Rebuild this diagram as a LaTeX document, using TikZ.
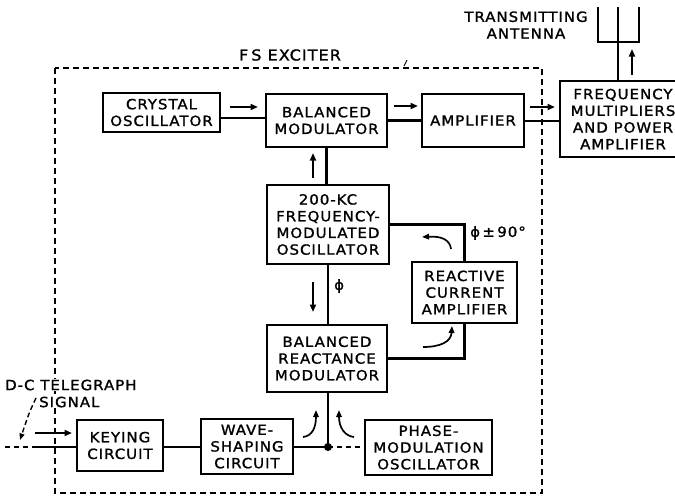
\documentclass[tikz,border=0pt]{standalone}
\usepackage{fontspec}
\usetikzlibrary{arrows.meta}
\newfontfamily\lett{DejaVu Sans}[FakeStretch=1.07,LetterSpace=7,FakeBold=1.3]
\begin{document}
\begin{tikzpicture}[x=1pt,y=-1pt,
  txt/.style={font=\lett\fontsize{14}{16.7}\selectfont},
  blk/.style={txt, draw, line width=1.6pt, inner sep=0pt, align=center},
  lbl/.style={txt, inner sep=0pt, align=center},
  conn/.style={line width=2.9pt},
  arr/.style={line width=1.9pt, -{Triangle[length=7.5pt,width=6pt]}},
  carr/.style={line width=1.7pt, -{Triangle[length=7pt,width=5.5pt]}},
  frame/.style={line width=1.3pt, dash pattern=on 6pt off 4pt}]
\clip (0,0) rectangle (675,496);
\fill[white] (0,0) rectangle (675,496);

% dashed exciter frame
\draw[frame] (55,68) rectangle (542,493);
\draw[line width=0.9pt] (404,66) -- (407,60);
\node[lbl, font=\lett\fontsize{15}{16}\selectfont] (fs) at (290,55) {F\kern3pt S EXCITER};

% blocks
\node[blk, minimum width=117pt, minimum height=39pt] (crystal) at (161.5,112.5) {CRYSTAL\\OSCILLATOR};
\node[blk, minimum width=121pt, minimum height=53pt] (balmod) at (326.5,120.5) {BALANCED\\MODULATOR};
\node[blk, minimum width=102pt, minimum height=53pt] (amp) at (473,120.5) {AMPLIFIER};
\node[blk, minimum width=126pt, minimum height=76pt] (freq) at (623,119) {FREQUENCY\\MULTIPLIERS\\AND POWER\\AMPLIFIER};
\node[blk, minimum width=122pt, minimum height=79pt] (osc) at (328,224.5) {200-KC\\FREQUENCY-\\MODULATED\\OSCILLATOR};
\node[blk, minimum width=105pt, minimum height=61pt] (react) at (464.5,292.5) {REACTIVE\\CURRENT\\AMPLIFIER};
\node[blk, minimum width=120pt, minimum height=67pt] (balreact) at (327,358.5) {BALANCED\\REACTANCE\\MODULATOR};
\node[blk, minimum width=86pt, minimum height=51pt] (key) at (120,445.5) {KEYING\\CIRCUIT};
\node[blk, minimum width=92pt, minimum height=55pt] (wave) at (247,446.5) {WAVE-\\SHAPING\\CIRCUIT};
\node[blk, minimum width=127pt, minimum height=55pt] (phase) at (428.5,447.5) {PHASE-\\MODULATION\\OSCILLATOR};

% labels
\node[lbl] (ant) at (526,25) {TRANSMITTING\\ANTENNA};
\node[lbl, anchor=west, fill=white, inner sep=1pt] (dc1) at (4,385) {D-C TELEGRAPH};
\node[lbl, anchor=west, fill=white, inner sep=1pt] (dc2) at (38,402) {SIGNAL};
\node[lbl, anchor=west] (phi90) at (470,233) {ϕ\,±\,90°};
\node[lbl, anchor=west] (phi) at (334,286) {ϕ};

% helper coordinates
\coordinate (y1) at (0,118);
\coordinate (y3) at (0,121);
\coordinate (j) at (328,447);
\coordinate (xin) at (5,447);
\coordinate (xsol) at (32,447);
\coordinate (antL) at (598,7);
\coordinate (antR) at (639,7);
\coordinate (antC) at (618,7);
\coordinate (antB) at (618,42);

% top row connectors
\draw[conn] (crystal.east |- y1) -- (balmod.west |- y1);
\draw[conn] (balmod.east) -- (amp.west);
\draw[conn] (amp.east |- y3) -- (freq.west |- y3);
\draw[arr] (230,107) -- (258,107);
\draw[arr] (394,106) -- (418,106);
\draw[arr] (530,107) -- (555,107);

% antenna
\draw[line width=1.6pt] (antL) |- (antB) -| (antR);
\draw[line width=1.6pt] (antC) -- (antB);
\draw[conn] (antB) -- (antB |- freq.north);
\draw[arr] (632,75) -- (632,49);

% vertical chain
\draw[conn] (osc.north -| balmod.south) -- (balmod.south);
\draw[arr] (313,178) -- (313,153);
\draw[conn] (osc.south) -- (osc.south |- balreact.north);
\draw[arr] (313,282) -- (313,312);

% feedback loop
\draw[conn] (osc.east) -| (react.north);
\draw[conn] (balreact.east) -| (react.south);
\draw[carr] (451,249) .. controls (450,240) and (442,236) .. (422,237);
\draw[carr] (423,347) .. controls (440,347) and (451,342) .. (452,326);

% bottom row
\draw[conn] (balreact.south -| j) -- (j);
\draw[conn] (key.east |- j) -- (wave.west |- j);
\draw[conn] (wave.east |- j) -- (j);
\draw[conn, dash pattern=on 5pt off 4pt] (j) -- (phase.west |- j);
\fill (j) circle (4pt);
\draw[carr] (303,437) .. controls (312,436) and (316,428) .. (316,410);
\draw[carr] (354,437) .. controls (345,436) and (339,428) .. (339,410);

% input
\draw[conn, dash pattern=on 5pt off 4pt] (xin) -- (xsol);
\draw[conn] (xsol) -- (key.west |- j);
\draw[arr] (35,433) -- (72,433);
\draw[line width=1.4pt, dash pattern=on 5pt off 3pt, -{Triangle[length=6.5pt,width=5pt]}] (36,398) .. controls (29,413) .. (20,440);
\end{tikzpicture}
\end{document}
